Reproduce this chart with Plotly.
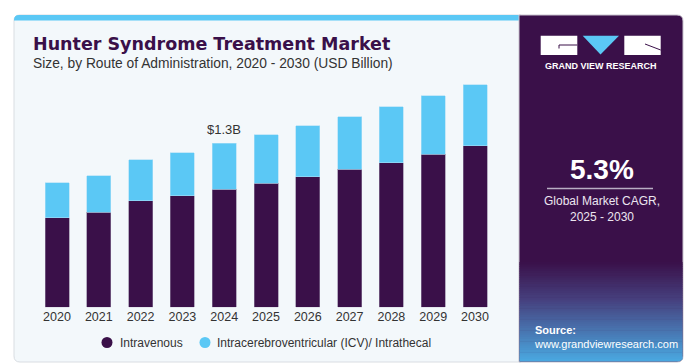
import plotly.graph_objects as go

years = ["2020", "2021", "2022", "2023", "2024", "2025", "2026", "2027", "2028", "2029", "2030"]
intravenous = [0.710, 0.753, 0.843, 0.885, 0.935, 0.983, 1.033, 1.096, 1.146, 1.213, 1.279]
icv_intrathecal = [0.278, 0.290, 0.325, 0.341, 0.365, 0.385, 0.407, 0.415, 0.444, 0.462, 0.486]
series_names = ["Intravenous", "Intracerebroventricular (ICV)/ Intrathecal"]
series_colors = ["#3a1049", "#5bc8f5"]
highlight_year = "2024"
highlight_label = "$1.3B"
cagr_value = "5.3%"
cagr_text = "Global Market CAGR,<br>2025 - 2030"

W, H = 691, 364
PURPLE = "#3a1049"


def px(x):
    return x / W


def py(y):
    return 1 - y / H


def rounded_rect(x0, y0, x1, y1, r, corners=(True, True, True, True)):
    tl, tr, br, bl = corners
    X0, X1 = px(x0), px(x1)
    Y0, Y1 = py(y0), py(y1)
    rx, ry = r / W, r / H
    p = []
    if tl:
        p.append(f"M {X0},{Y0 - ry} Q {X0},{Y0} {X0 + rx},{Y0}")
    else:
        p.append(f"M {X0},{Y0}")
    if tr:
        p.append(f"L {X1 - rx},{Y0} Q {X1},{Y0} {X1},{Y0 - ry}")
    else:
        p.append(f"L {X1},{Y0}")
    if br:
        p.append(f"L {X1},{Y1 + ry} Q {X1},{Y1} {X1 - rx},{Y1}")
    else:
        p.append(f"L {X1},{Y1}")
    if bl:
        p.append(f"L {X0 + rx},{Y1} Q {X0},{Y1} {X0},{Y1 + ry}")
    else:
        p.append(f"L {X0},{Y1}")
    p.append("Z")
    return " ".join(p)


fig = go.Figure()
fig.add_trace(go.Bar(x=years, y=intravenous, name=series_names[0],
                     marker=dict(color=series_colors[0], line=dict(width=0.6, color="#8a7a99")),
                     showlegend=False))
fig.add_trace(go.Bar(x=years, y=icv_intrathecal, name=series_names[1],
                     marker=dict(color=series_colors[1], line=dict(width=0.6, color="#a8def7")),
                     showlegend=False))

totals = [a + b for a, b in zip(intravenous, icv_intrathecal)]
hi = years.index(highlight_year)

shapes = []
shapes.append(dict(type="path", xref="paper", yref="paper",
                   path=rounded_rect(14, 15, 521, 362, 6, (True, False, False, True)),
                   fillcolor="#f3f8fb", line=dict(color="#d9dde2", width=1), layer="below"))
shapes.append(dict(type="path", xref="paper", yref="paper",
                   path=rounded_rect(14, 15, 520, 20.5, 5, (True, False, False, False)),
                   fillcolor="#5bc8f5", line=dict(width=0), layer="below"))
shapes.append(dict(type="path", xref="paper", yref="paper",
                   path=rounded_rect(519, 15, 683, 362, 6, (False, True, True, False)),
                   fillcolor=PURPLE, line=dict(color="#c9c4cf", width=1), layer="below"))


def lerp(c1, c2, t):
    a = [int(c1[i:i + 2], 16) for i in (1, 3, 5)]
    b = [int(c2[i:i + 2], 16) for i in (1, 3, 5)]
    return "#" + "".join(f"{int(round(a[k] + (b[k] - a[k]) * t)):02x}" for k in range(3))


g0, g1 = 262, 361
n = 45
for i in range(n):
    y0 = g0 + (g1 - g0) * i / n
    y1 = g0 + (g1 - g0) * (i + 1) / n + 0.6
    t = (i + 0.5) / n
    if t < 0.38:
        col = lerp(PURPLE, "#46407e", t / 0.38)
    else:
        col = lerp("#46407e", "#4aa8e0", (t - 0.38) / 0.62)
    last = i == n - 1
    shapes.append(dict(type="path", xref="paper", yref="paper",
                       path=rounded_rect(519.5, y0, 682.5, min(y1, 361.5), 5, (False, False, last, False)),
                       fillcolor=col, line=dict(width=0), layer="below"))

shapes.append(dict(type="rect", xref="paper", yref="paper",
                   x0=px(540.7), x1=px(577.3), y0=py(55), y1=py(35.7),
                   fillcolor="white", line=dict(width=0)))
shapes.append(dict(type="path", xref="paper", yref="paper",
                   path=f"M {px(559)},{py(48.5)} L {px(559)},{py(45)} L {px(577.3)},{py(45)}",
                   line=dict(color=PURPLE, width=1)))
shapes.append(dict(type="path", xref="paper", yref="paper",
                   path=f"M {px(582.7)},{py(35.7)} L {px(619)},{py(35.7)} L {px(600.5)},{py(54.5)} Z",
                   fillcolor="#5bc8f5", line=dict(width=0)))
shapes.append(dict(type="rect", xref="paper", yref="paper",
                   x0=px(624.3), x1=px(660.7), y0=py(55), y1=py(35.7),
                   fillcolor="white", line=dict(width=0)))
shapes.append(dict(type="path", xref="paper", yref="paper",
                   path=f"M {px(645)},{py(44)} L {px(660.7)},{py(50)}",
                   line=dict(color=PURPLE, width=1)))
shapes.append(dict(type="line", xref="paper", yref="paper",
                   x0=px(547), x1=px(653), y0=py(188.5), y1=py(188.5),
                   line=dict(color="#b9aec4", width=1.5)))

# legend (circle markers + labels)
legend_marker_x = [107, 205]
legend_text_x = [118, 214.5]
legend_y = 342.5
r = 5.5
for mx, c in zip(legend_marker_x, series_colors):
    shapes.append(dict(type="circle", xref="paper", yref="paper",
                       x0=px(mx - r), x1=px(mx + r), y0=py(legend_y + r), y1=py(legend_y - r),
                       fillcolor=c, line=dict(width=0)))

annotations = [
    dict(text="<b>Hunter Syndrome Treatment Market</b>", x=px(31), y=py(44), xref="paper", yref="paper",
         xanchor="left", yanchor="middle", showarrow=False,
         font=dict(family="DejaVu Sans", size=17.5, color="#3a1049")),
    dict(text="Size, by Route of Administration, 2020 - 2030 (USD Billion)", x=px(31), y=py(63.5),
         xref="paper", yref="paper", xanchor="left", yanchor="middle", showarrow=False,
         font=dict(family="Liberation Sans", size=13.8, color="#333333")),
    dict(text=highlight_label, x=hi, y=totals[hi], xref="x", yref="y",
         xanchor="center", yanchor="bottom", yshift=4, showarrow=False,
         font=dict(family="Liberation Sans", size=13, color="#333333")),
    dict(text="<b>GRAND VIEW RESEARCH</b>", x=px(600.7), y=py(66), xref="paper", yref="paper",
         xanchor="center", yanchor="middle", showarrow=False,
         font=dict(family="Liberation Sans", size=9, color="white")),
    dict(text="<b>" + cagr_value + "</b>", x=px(601.5), y=py(169.5), xref="paper", yref="paper",
         xanchor="center", yanchor="middle", showarrow=False,
         font=dict(family="Liberation Sans", size=28, color="white")),
    dict(text=cagr_text, x=px(601.5), y=py(208.5), xref="paper", yref="paper",
         xanchor="center", yanchor="middle", showarrow=False,
         font=dict(family="Liberation Sans", size=12, color="#ece6f0")),
    dict(text="<b>Source:</b><br>www.grandviewresearch.com", x=px(531.5), y=py(336.5), xref="paper", yref="paper",
         xanchor="left", yanchor="middle", showarrow=False, align="left",
         font=dict(family="Liberation Sans", size=11, color="white")),
]
for tx, name in zip(legend_text_x, series_names):
    annotations.append(dict(text=name, x=px(tx), y=py(legend_y), xref="paper", yref="paper",
                            xanchor="left", yanchor="middle", showarrow=False,
                            font=dict(family="Liberation Sans", size=12, color="#333333")))

y_bottom, y_top_px = 307.3, 70.0
y_range_top = (y_bottom - y_top_px) * (1.3 / 164.0)

fig.update_layout(
    width=W, height=H,
    margin=dict(l=0, r=0, t=0, b=0),
    paper_bgcolor="white",
    plot_bgcolor="rgba(0,0,0,0)",
    barmode="stack",
    bargap=0.426,
    shapes=shapes,
    annotations=annotations,
    xaxis=dict(domain=[px(36.1), px(495.9)], range=[-0.5, 10.5], type="category",
               showgrid=False, zeroline=False, showline=False, ticks="",
               tickfont=dict(family="Liberation Sans", size=12.5, color="#333333")),
    yaxis=dict(domain=[1 - y_bottom / H, 1 - y_top_px / H], range=[0, y_range_top],
               showgrid=False, zeroline=False, showline=False, showticklabels=False),
    showlegend=False,
)

fig.write_html("out.html", config={"displayModeBar": False},
               post_script="document.body.style.margin='0';document.body.style.overflow='hidden';")
